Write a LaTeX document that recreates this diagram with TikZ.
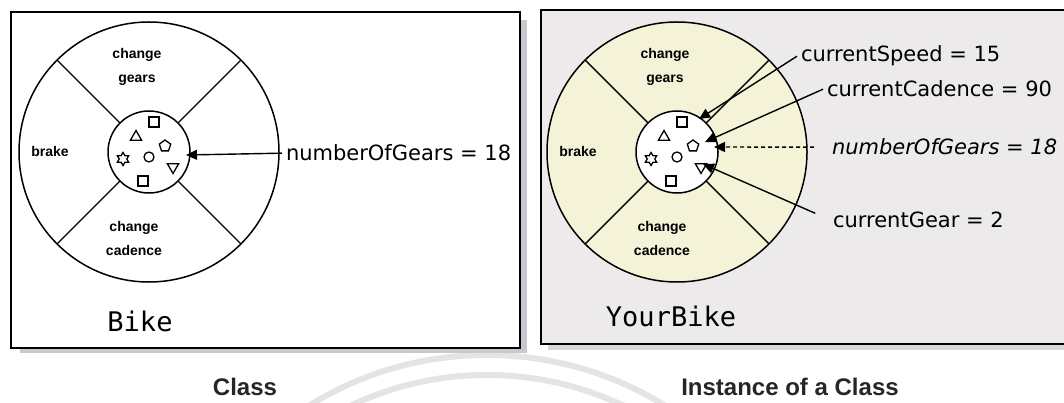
\documentclass[tikz,border=0pt]{standalone}
\usepackage{fontspec}
\usepackage{tikz}
\usetikzlibrary{positioning,shapes.geometric,arrows.meta}
\newfontfamily\valfont{DejaVu Sans}
\newfontfamily\namefont{DejaVu Sans Mono}
\newfontfamily\partfont{Liberation Sans}
\definecolor{wheelyellow}{RGB}{244,243,216}
\definecolor{objgray}{RGB}{236,234,234}
\definecolor{shadowgray}{RGB}{200,200,206}
\definecolor{markgray}{RGB}{228,228,228}

\begin{document}
\begin{tikzpicture}[x=1pt, y=-1pt,
  every node/.style={inner sep=0pt, outer sep=0pt},
  frame/.style={draw=black, line width=1.8pt},
  wheel/.style={circle, draw=black, line width=1.5pt, minimum size=260pt},
  hub/.style={circle, draw=black, fill=white, line width=1.5pt, minimum size=82pt},
  spoke/.style={line width=1.4pt},
  part/.style={align=center, font=\partfont\bfseries\fontsize{14}{24}\selectfont},
  val/.style={anchor=base west, inner xsep=4pt, font=\valfont\fontsize{21}{24}\selectfont},
  objname/.style={font=\namefont\fontsize{27}{30}\selectfont},
  caption/.style={font=\partfont\bfseries\fontsize{24}{28}\selectfont, text=black!85},
  bit/.style={draw=black, line width=1.3pt},
  sq/.style={bit, rectangle, minimum size=10pt},
  tri/.style={bit, regular polygon, regular polygon sides=3, minimum size=13pt},
  tridown/.style={tri, shape border rotate=180},
  pent/.style={bit, regular polygon, regular polygon sides=5, minimum size=12pt},
  hexstar/.style={bit, star, star points=6, star point ratio=1.7, minimum size=13pt},
  blob/.style={bit, circle, minimum size=10pt},
  ptr/.style={line width=1.4pt, -{Triangle[length=11pt,width=10pt]}}
]
\useasboundingbox (0,0) rectangle (1064,403);

% faint marks behind the captions
\draw[markgray, line width=6pt] (487,693) circle[radius=338pt];
\draw[markgray, line width=6pt] (487,693) circle[radius=318pt];

% the two frames
\fill[shadowgray] (20,20) rectangle (527,353);
\draw[frame, fill=white] (11,12) rectangle (520,348);
\fill[shadowgray!70] (548,18) rectangle (1075,350);
\draw[frame, fill=objgray] (541,10) rectangle (1080,344);

% wheels
\foreach \w/\cx/\tint in {L/149/white, R/677/wheelyellow} {
  \node[wheel, fill=\tint] (wheel\w) at (\cx,152) {};
  \node[hub] (hub\w) at (\cx,152) {};
  \foreach \a in {45,135,225,315}
    \draw[spoke] (hub\w.\a) -- (wheel\w.\a);
  \node[part] (gears\w) at (\cx-12,67) {change\\gears};
  \node[part] (brake\w) at (\cx-99,151) {brake};
  \node[part] (cadence\w) at (\cx-15,238) {change\\cadence};
  % variables inside the hub
  \node[sq] (sqtop\w) at (\cx+5,122) {};
  \node[tri] (triup\w) at (\cx-13,137) {};
  \node[pent] (pent\w) at (\cx+16,146) {};
  \node[hexstar] (star\w) at (\cx-26,159) {};
  \node[blob] (blob\w) at (\cx,157) {};
  \node[tridown] (tridn\w) at (\cx+24,167) {};
  \node[sq] (sqbot\w) at (\cx-6,181) {};
}

\node[objname] (bikename) at (140,321) {Bike};
\node[objname] (yourbikename) at (671,316) {YourBike};

% class side
\node[val] (gearcountL) at (282,161) {numberOfGears = 18};
\coordinate (gearcountLtip) at (186,155);
\draw[ptr] (gearcountL.west) -- (gearcountLtip);

% instance side
\node[val] (speed) at (797,62) {currentSpeed = 15};
\node[val] (cadence) at (823,97) {currentCadence = 90};
\node[val, font=\valfont\itshape\fontsize{21}{24}\selectfont] (gearcountR) at (828,155) {numberOfGears = 18};
\node[val] (gear) at (829,227) {currentGear = 2};
\coordinate (speedtip) at (699,119);
\coordinate (cadencetip) at (705,142);
\coordinate (gearcountRtip) at (714,147);
\coordinate (geartip) at (703,164);
\draw[ptr] (speed.west) -- (speedtip);
\draw[ptr] (cadence.west) -- (cadencetip);
\draw[ptr, dash pattern=on 4pt off 3pt, shorten <=14pt] (gearcountR.west) -- (gearcountRtip);
\draw[ptr, shorten <=15pt] (gear.west) -- (geartip);

% captions
\node[caption] (classcap) at (245,387) {Class};
\node[caption] (instcap) at (790,387) {Instance of a Class};
\end{tikzpicture}
\end{document}
